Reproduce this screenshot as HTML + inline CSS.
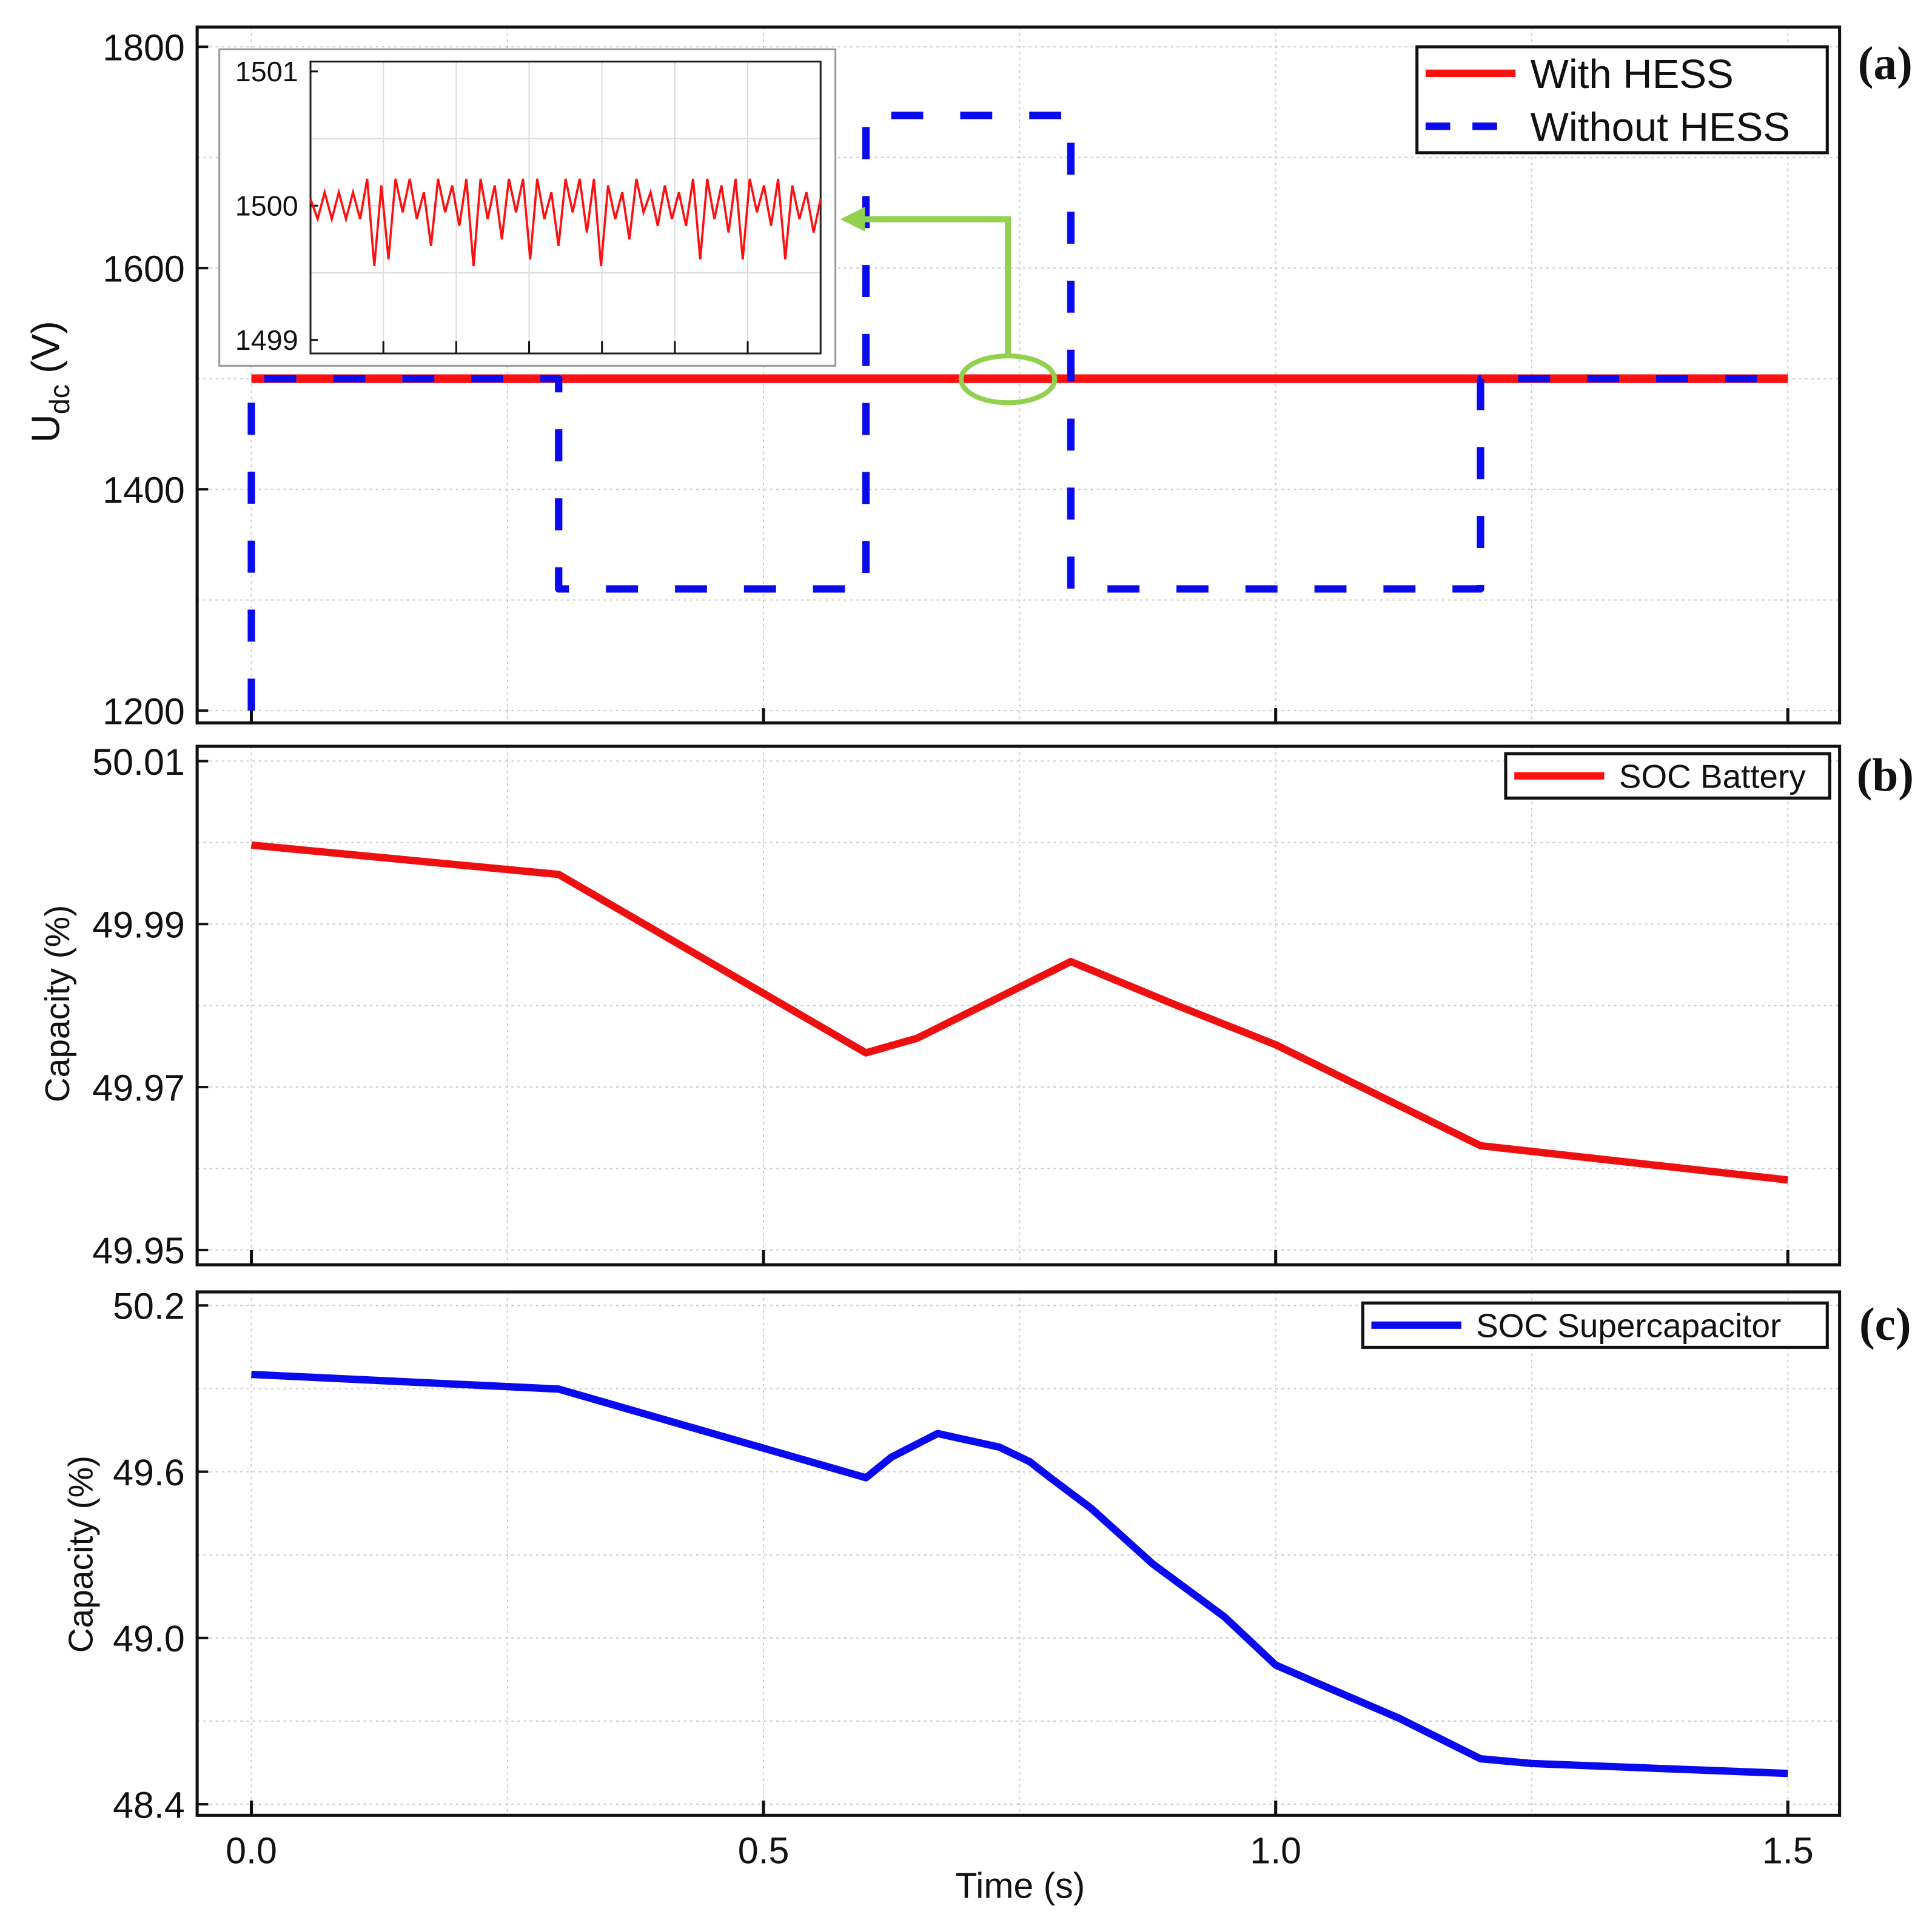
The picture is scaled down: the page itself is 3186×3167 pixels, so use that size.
<!DOCTYPE html>
<html><head><meta charset="utf-8"><style>
html,body{margin:0;padding:0;background:#fff}
svg{display:block}
text{font-family:"Liberation Sans",sans-serif;fill:#111}
</style></head><body>
<svg id="chart" xmlns="http://www.w3.org/2000/svg" width="3186" height="3167" viewBox="0 0 1568 1559" preserveAspectRatio="none">
<rect x="0" y="0" width="1568" height="1559" fill="#fff"/>
<g id="g"></g>
</svg>
<script>
// ---- data ----
const xTicks=[0,0.5,1.0,1.5];
const xTickLabels=["0.0","0.5","1.0","1.5"];
const aTicks=[1200,1400,1600,1800];
const bTicks=[49.95,49.97,49.99,50.01];
const bTickLabels=["49.95","49.97","49.99","50.01"];
const cTicks=[48.4,49.0,49.6,50.2];
const cTickLabels=["48.4","49.0","49.6","50.2"];
const withT=[0,1.5];
const withV=[1500,1500];
const withoutT=[0,0,0.3,0.3,0.6,0.6,0.8,0.8,1.2,1.2,1.5];
const withoutV=[1200,1500,1500,1310,1310,1738,1738,1310,1310,1500,1500];
const batT=[0,0.3,0.6,0.65,0.8,0.9,1.0,1.2,1.5];
const batV=[49.9997,49.9961,49.9742,49.9760,49.9854,49.9802,49.9752,49.9628,49.9586];
const scT=[0,0.3,0.6,0.625,0.67,0.73,0.76,0.78,0.82,0.88,0.95,1.0,1.05,1.12,1.2,1.25,1.5];
const scV=[49.951,49.898,49.578,49.653,49.738,49.689,49.636,49.578,49.467,49.267,49.076,48.902,48.822,48.711,48.564,48.547,48.511];
const insetV=[1500.05,1499.9,1500.1,1499.9,1500.1,1499.9,1500.1,1499.9,1500.2,1499.55,1500.15,1499.6,1500.2,1499.95,1500.2,1499.9,1500.1,1499.7,1500.2,1499.95,1500.15,1499.85,1500.2,1499.55,1500.2,1499.9,1500.15,1499.75,1500.2,1499.95,1500.2,1499.6,1500.2,1499.9,1500.1,1499.7,1500.2,1499.95,1500.2,1499.8,1500.2,1499.55,1500.15,1499.9,1500.1,1499.75,1500.2,1499.95,1500.1,1499.85,1500.15,1499.9,1500.1,1499.85,1500.2,1499.6,1500.2,1499.9,1500.15,1499.8,1500.2,1499.6,1500.2,1499.95,1500.15,1499.85,1500.2,1499.6,1500.15,1499.9,1500.1,1499.8,1500.05];

// ---- helpers ----
const NS="http://www.w3.org/2000/svg",G=document.getElementById('g');
function mk(t,a,p){const e=document.createElementNS(NS,t);for(const k in a)e.setAttribute(k,a[k]);(p||G).appendChild(e);return e;}
const X0=204,X1=1451,FL=160,FR=1493;
const sx=t=>X0+(t-0)*(X1-X0)/1.5;
function scaleY(v0,y0,v1,y1){return v=>y0+(v-v0)*(y1-y0)/(v1-v0);}
const syA=scaleY(1200,577,1800,38), syB=scaleY(49.95,1015,50.01,618), syC=scaleY(48.4,1465,50.2,1060);
function path(ts,vs,sy){return ts.map((t,i)=>(i?'L':'M')+sx(t).toFixed(1)+' '+sy(vs[i]).toFixed(1)).join(' ');}

function panel(name,top,bot,ticks,labels,sy){
  const g=mk('g',{});
  
  
  for(let t=0;t<=1.5001;t+=0.25){const l=mk('line',{x1:sx(t),x2:sx(t),y1:top,y2:bot,stroke:'#ccc','stroke-width':1,'stroke-dasharray':'2,3'},g);}
  for(let i=0;i<ticks.length;i++){for(let h=0;h<2;h++){if(i==ticks.length-1&&h)break;const v=ticks[i]+h*(ticks[1]-ticks[0])/2;const l=mk('line',{x1:FL,x2:FR,y1:sy(v),y2:sy(v),stroke:'#ccc','stroke-width':1,'stroke-dasharray':'2,3'},g);}}
  const f=mk('rect',{x:FL,y:top,width:FR-FL,height:bot-top,fill:'none',stroke:'#111','stroke-width':2.5},g);
  
  ticks.forEach((v,i)=>{const y=sy(v);mk('line',{x1:FL,x2:FL+9,y1:y,y2:y,stroke:'#111','stroke-width':2},g);
    const tx=mk('text',{x:FL-10,y:y+11,'font-size':30,'text-anchor':'end'},g);tx.textContent=labels[i];
    });
  xTicks.forEach(t=>mk('line',{x1:sx(t),x2:sx(t),y1:bot,y2:bot-12,stroke:'#111','stroke-width':2.5},g));
  return g;
}
const gA=panel('panel-a-udc',22,587,aTicks,aTicks.map(String),syA);
const gB=panel('panel-b-soc-battery',606,1027,bTicks,bTickLabels,syB);
const gC=panel('panel-c-soc-supercapacitor',1049,1474,cTicks,cTickLabels,syC);

let p=mk('path',{d:path(withT,withV,syA),fill:'none',stroke:'#ff1010','stroke-width':7},gA);

p=mk('path',{d:path(withoutT,withoutV,syA),fill:'none',stroke:'#0a0aee','stroke-width':6,'stroke-dasharray':'26,30','stroke-linejoin':'round'},gA);

p=mk('path',{d:path(batT,batV,syB),fill:'none',stroke:'#ee1010','stroke-width':6,'stroke-linejoin':'round'},gB);

p=mk('path',{d:path(scT,scV,syC),fill:'none',stroke:'#0a0aee','stroke-width':6,'stroke-linejoin':'round'},gC);


// inset
const gi=mk('g',{},gA);

mk('rect',{x:178,y:40,width:500,height:257,fill:'#fff',stroke:'#999','stroke-width':1.5},gi);
const IL=252,IR=666,IT=50,IB=287;
const syI=scaleY(1499,276,1501,58);
for(let i=1;i<7;i++){const x=IL+i*(IR-IL)/7;mk('line',{x1:x,x2:x,y1:IT,y2:IB,stroke:'#ddd','stroke-width':1},gi);mk('line',{x1:x,x2:x,y1:IB,y2:IB-10,stroke:'#111','stroke-width':1.5},gi);}
[1499.5,1500,1500.5].forEach(v=>mk('line',{x1:IL,x2:IR,y1:syI(v),y2:syI(v),stroke:'#ddd','stroke-width':1},gi));
mk('rect',{x:IL,y:IT,width:IR-IL,height:IB-IT,fill:'none',stroke:'#222','stroke-width':1.5},gi);
[1499,1500,1501].forEach(v=>{mk('line',{x1:IL,x2:IL+6,y1:syI(v),y2:syI(v),stroke:'#111','stroke-width':1.5},gi);const t=mk('text',{x:IL-10,y:syI(v)+8,'font-size':23,'text-anchor':'end'},gi);t.textContent=v;});
const ip=insetV.map((v,i)=>(i?'L':'M')+(IL+i*(IR-IL)/(insetV.length-1)).toFixed(1)+' '+syI(v).toFixed(1)).join(' ');
p=mk('path',{d:ip,fill:'none',stroke:'#ff1010','stroke-width':1.8},gi);


const ga=mk('g',{},gA);
mk('ellipse',{cx:818,cy:308,rx:38,ry:19,fill:'none',stroke:'#92d050','stroke-width':4},ga);
mk('polyline',{points:'818,289 818,178 700,178',fill:'none',stroke:'#92d050','stroke-width':5},ga);
mk('polygon',{points:'682,178 702,168 702,188',fill:'#92d050'},ga);

function legend(name,x,y,w,h,items,fs){const g=mk('g',{});
  mk('rect',{x:x,y:y,width:w,height:h,fill:'#fff',stroke:'#111','stroke-width':2.5},g);
  items.forEach((it,i)=>{const yy=y+h/items.length*(i+0.5);
    mk('line',{x1:x+7,x2:x+80,y1:yy,y2:yy,stroke:it.c,'stroke-width':6,'stroke-dasharray':it.d||'none'},g);
    const t=mk('text',{x:x+92,y:yy+fs*0.36,'font-size':fs},g);t.textContent=it.t;});}
legend('legend-a',1150,38,333,86,[{c:'#ff1010',t:'With HESS'},{c:'#0a0aee',t:'Without HESS',d:'20,18'}],33);
legend('legend-b',1222,612,263,36,[{c:'#ff1010',t:'SOC Battery'}],27);
legend('legend-c',1106,1058,377,36,[{c:'#0a0aee',t:'SOC Supercapacitor'}],27);

[['(a)',64],['(b)',642],['(c)',1088]].forEach(([s,y])=>{const t=mk('text',{x:1530,y:y,'font-size':38,'font-weight':'bold','text-anchor':'middle'});t.style.fontFamily='"Liberation Serif",serif';t.textContent=s;});

let t=mk('text',{x:0,y:0,'font-size':32,'text-anchor':'middle',transform:'translate(48,310) rotate(-90)'});
t.innerHTML='U<tspan font-size="23" dy="8">dc</tspan><tspan dy="-8"> (V)</tspan>';

t=mk('text',{x:0,y:0,'font-size':28,'text-anchor':'middle',transform:'translate(56,815) rotate(-90)'});t.textContent='Capacity (%)';

t=mk('text',{x:0,y:0,'font-size':28,'text-anchor':'middle',transform:'translate(75,1262) rotate(-90)'});t.textContent='Capacity (%)';

xTicks.forEach((v,i)=>{const tt=mk('text',{x:sx(v),y:1513,'font-size':30,'text-anchor':'middle'});tt.textContent=xTickLabels[i];});
t=mk('text',{x:828,y:1541,'font-size':29,'text-anchor':'middle'});t.textContent='Time (s)';

</script>
</body></html>
